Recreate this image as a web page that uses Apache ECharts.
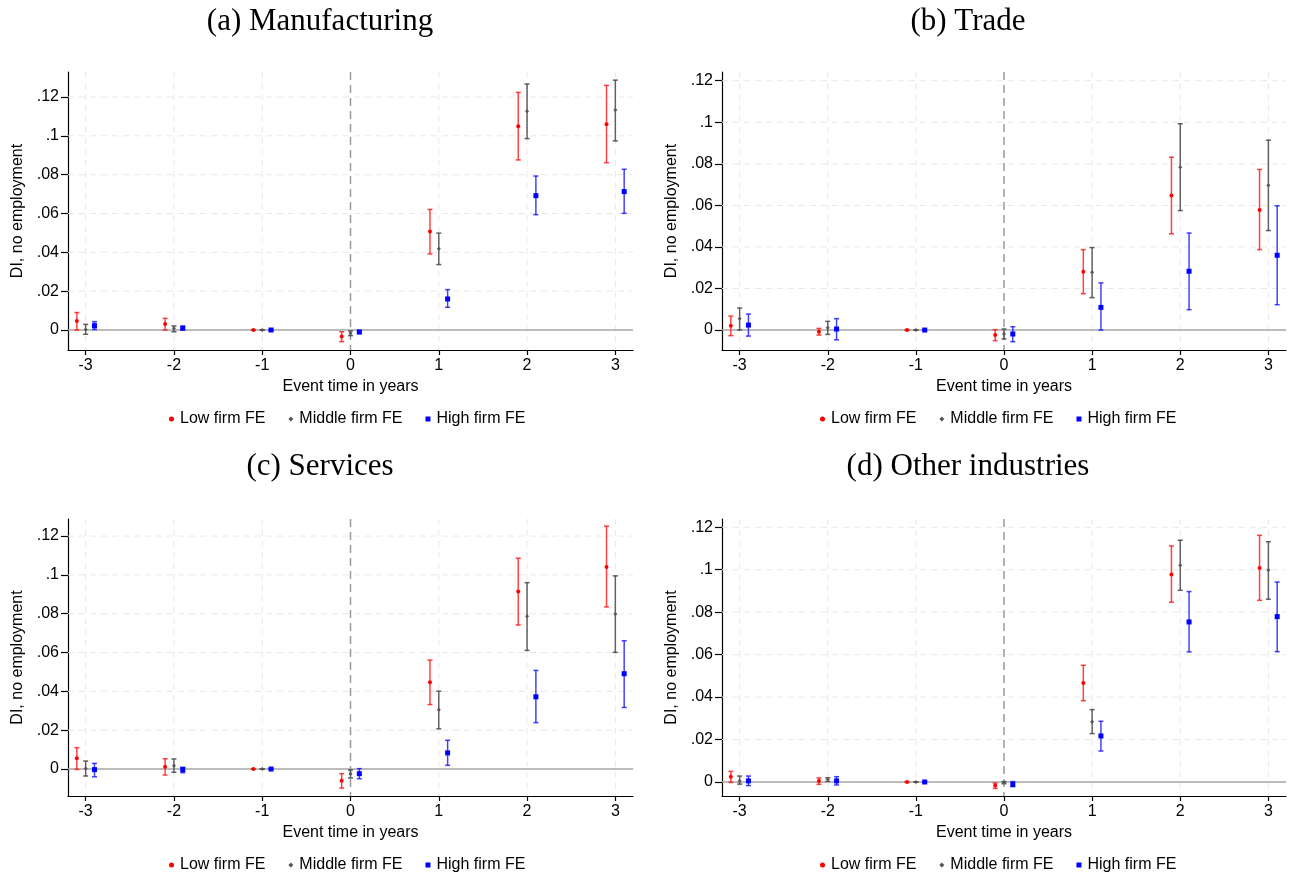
<!DOCTYPE html>
<html>
<head>
<meta charset="utf-8">
<script src="https://cdn.jsdelivr.net/npm/echarts@6/dist/echarts.min.js"></script>
<style>html,body{margin:0;padding:0;background:#fff;}#chart{width:1290px;height:878px;}</style>
</head>
<body>
<div id="chart"></div>
<script>
// ---------- data ----------
const eventTime = [-3, -2, -1, 0, 1, 2, 3];
const xTickLabels = ['-3', '-2', '-1', '0', '1', '2', '3'];
const yTicks = [0, 0.02, 0.04, 0.06, 0.08, 0.1, 0.12];
const yTickLabels = ['0', '.02', '.04', '.06', '.08', '.1', '.12'];
const groupNames = ['Low firm FE', 'Middle firm FE', 'High firm FE'];
const panelTitles = ['(a) Manufacturing', '(b) Trade', '(c) Services', '(d) Other industries'];

// (a) Manufacturing
const mfgLow = [0.0046, 0.0031, 0, -0.0033, 0.0508, 0.1050, 0.1060];
const mfgLowCI = [[0.0000, 0.0090], [0.0000, 0.0060], [0, 0], [-0.0060, -0.0009], [0.0392, 0.0621], [0.0876, 0.1224], [0.0862, 0.1260]];
const mfgMid = [0.0003, 0.0009, 0, -0.0017, 0.0418, 0.1127, 0.1133];
const mfgMidCI = [[-0.0022, 0.0029], [-0.0009, 0.0021], [0, 0], [-0.0029, -0.0005], [0.0337, 0.0499], [0.0986, 0.1267], [0.0974, 0.1287]];
const mfgHigh = [0.0022, 0.0010, 0, -0.0010, 0.0160, 0.0692, 0.0713];
const mfgHighCI = [[0.0003, 0.0043], [0.0000, 0.0019], [0, 0], [-0.0019, -0.0003], [0.0117, 0.0208], [0.0594, 0.0793], [0.0601, 0.0828]];

// (b) Trade
const trdLow = [0.0021, -0.0008, 0, -0.0024, 0.0281, 0.0647, 0.0578];
const trdLowCI = [[-0.0027, 0.0067], [-0.0024, 0.0008], [0, 0], [-0.0051, 0.0002], [0.0175, 0.0387], [0.0463, 0.0832], [0.0387, 0.0773]];
const trdMid = [0.0055, 0.0011, 0, -0.0019, 0.0278, 0.0784, 0.0697];
const trdMidCI = [[0.0000, 0.0106], [-0.0021, 0.0042], [0, 0], [-0.0043, 0.0005], [0.0156, 0.0397], [0.0575, 0.0993], [0.0479, 0.0914]];
const trdHigh = [0.0024, 0.0005, 0, -0.0019, 0.0109, 0.0283, 0.0360];
const trdHighCI = [[-0.0029, 0.0077], [-0.0047, 0.0055], [0, 0], [-0.0056, 0.0016], [0.0000, 0.0227], [0.0098, 0.0467], [0.0122, 0.0598]];

// (c) Services
const srvLow = [0.0055, 0.0012, 0, -0.0060, 0.0447, 0.0914, 0.1041];
const srvLowCI = [[-0.0002, 0.0110], [-0.0031, 0.0053], [0, 0], [-0.0098, -0.0024], [0.0332, 0.0561], [0.0742, 0.1086], [0.0835, 0.1251]];
const srvMid = [0.0003, 0.0017, 0, -0.0026, 0.0305, 0.0787, 0.0799];
const srvMidCI = [[-0.0036, 0.0041], [-0.0017, 0.0052], [0, 0], [-0.0046, -0.0005], [0.0207, 0.0401], [0.0611, 0.0960], [0.0601, 0.0995]];
const srvHigh = [-0.0003, -0.0003, 0, -0.0024, 0.0083, 0.0372, 0.0491];
const srvHighCI = [[-0.0040, 0.0029], [-0.0019, 0.0009], [0, 0], [-0.0050, 0.0002], [0.0019, 0.0148], [0.0239, 0.0508], [0.0317, 0.0661]];

// (d) Other industries
const othLow = [0.0025, 0.0005, 0, -0.0017, 0.0466, 0.0978, 0.1008];
const othLowCI = [[-0.0002, 0.0050], [-0.0011, 0.0019], [0, 0], [-0.0030, -0.0005], [0.0383, 0.0550], [0.0847, 0.1112], [0.0856, 0.1162]];
const othMid = [0.0005, 0.0013, 0, -0.0003, 0.0284, 0.1021, 0.0999];
const othMidCI = [[-0.0010, 0.0028], [0.0003, 0.0020], [0, 0], [-0.0008, 0.0002], [0.0228, 0.0341], [0.0903, 0.1139], [0.0861, 0.1132]];
const othHigh = [0.0005, 0.0005, 0, -0.0011, 0.0217, 0.0754, 0.0779];
const othHighCI = [[-0.0017, 0.0028], [-0.0014, 0.0025], [0, 0], [-0.0022, 0.0002], [0.0146, 0.0286], [0.0613, 0.0897], [0.0614, 0.0942]];

// ---------- layout & style ----------
const panelData = [
  [[mfgLow, mfgLowCI], [mfgMid, mfgMidCI], [mfgHigh, mfgHighCI]],
  [[trdLow, trdLowCI], [trdMid, trdMidCI], [trdHigh, trdHighCI]],
  [[srvLow, srvLowCI], [srvMid, srvMidCI], [srvHigh, srvHighCI]],
  [[othLow, othLowCI], [othMid, othMidCI], [othHigh, othHighCI]]
];
const layout = [
  {left: 68, top: 72, width: 565, height: 278, ymin: -0.0103, ymax: 0.1329, tx: 320, ty: 22, lx: 164, ly: 406},
  {left: 722, top: 72, width: 564, height: 278, ymin: -0.0096, ymax: 0.1242, tx: 968, ty: 22, lx: 815, ly: 406},
  {left: 68, top: 519, width: 565, height: 277, ymin: -0.0139, ymax: 0.1288, tx: 320, ty: 467, lx: 164, ly: 852},
  {left: 722, top: 519, width: 564, height: 277, ymin: -0.0066, ymax: 0.1239, tx: 968, ty: 467, lx: 815, ly: 852}
];
const dodge = [-0.1, 0, 0.1];
const markerColors = ['#ff0000', '#555555', '#0000ff'];
const ciColors = ['rgba(255,20,20,0.8)', 'rgba(70,70,70,0.85)', 'rgba(20,20,255,0.8)'];
const symbols = ['circle', 'diamond', 'rect'];
const symbolSizes = [4, 4, 5];
const FONT = 'Liberation Sans, Arial, Helvetica, sans-serif';

const grids = [], xAxes = [], yAxes = [], series = [], legends = [], graphics = [];

layout.forEach((L, i) => {
  grids.push({left: L.left, top: L.top, width: L.width, height: L.height, containLabel: false});
  xAxes.push({
    gridIndex: i, type: 'value', min: -3.2, max: 3.2,
    axisLine: {show: true, onZero: false, lineStyle: {color: '#000', width: 1.2}},
    axisTick: {show: true, customValues: eventTime, length: 5, lineStyle: {color: '#000', width: 1.2}},
    axisLabel: {customValues: eventTime, formatter: v => { const k = eventTime.indexOf(v); return k >= 0 ? xTickLabels[k] : String(v); }, fontSize: 16, color: '#000', margin: 8, fontFamily: FONT},
    splitLine: {show: false},
    name: 'Event time in years', nameLocation: 'middle', nameGap: 29,
    nameTextStyle: {fontSize: 16, color: '#000', fontFamily: FONT}
  });
  yAxes.push({
    gridIndex: i, type: 'value', min: L.ymin, max: L.ymax,
    axisLine: {show: true, onZero: false, lineStyle: {color: '#000', width: 1.2}},
    axisTick: {show: true, customValues: yTicks, length: 7, lineStyle: {color: '#000', width: 1.2}},
    axisLabel: {customValues: yTicks, formatter: v => { const k = yTicks.findIndex(t => Math.abs(t - v) < 1e-9); return k >= 0 ? yTickLabels[k] : String(v); }, fontSize: 16, color: '#000', margin: 9, fontFamily: FONT},
    splitLine: {show: false},
    name: 'DI, no employment', nameLocation: 'middle', nameGap: 42, nameRotate: 90,
    nameTextStyle: {fontSize: 16, color: '#000', fontFamily: FONT}
  });

  // vertical grid lines
  series.push({
    type: 'custom', name: 'vgrid' + i, xAxisIndex: i, yAxisIndex: i, silent: true, z: 1,
    data: eventTime.map(t => [t, 0]),
    encode: {x: 0, y: 1},
    renderItem: (params, api) => {
      const cs = params.coordSys;
      const x = api.coord([api.value(0), 0])[0];
      const isZero = api.value(0) === 0;
      return {type: 'line', shape: {x1: x, y1: cs.y, x2: x, y2: cs.y + cs.height},
        style: isZero ? {stroke: '#9a9a9a', lineWidth: 1.5, lineDash: [8, 5]} : {stroke: '#e8e8e8', lineWidth: 1, lineDash: [6, 5]}};
    }
  });
  // horizontal grid lines
  series.push({
    type: 'custom', name: 'hgrid' + i, xAxisIndex: i, yAxisIndex: i, silent: true, z: 1,
    data: yTicks.map(v => [0, v]),
    encode: {x: 0, y: 1},
    renderItem: (params, api) => {
      const cs = params.coordSys;
      const y = api.coord([0, api.value(1)])[1];
      const isZero = api.value(1) === 0;
      return {type: 'line', shape: {x1: cs.x, y1: y, x2: cs.x + cs.width, y2: y},
        style: isZero ? {stroke: '#a6a6a6', lineWidth: 1.5} : {stroke: '#e8e8e8', lineWidth: 1, lineDash: [6, 5]}};
    }
  });

  panelData[i].forEach((g, j) => {
    const est = g[0], ci = g[1];
    series.push({
      type: 'custom', name: groupNames[j], xAxisIndex: i, yAxisIndex: i, z: 2,
      itemStyle: {color: markerColors[j]},
      data: eventTime.map((t, k) => [t + dodge[j], ci[k][0], ci[k][1]]),
      encode: {x: 0, y: [1, 2]},
      renderItem: (params, api) => {
        const lo = api.coord([api.value(0), api.value(1)]);
        const hi = api.coord([api.value(0), api.value(2)]);
        const st = {stroke: ciColors[j], lineWidth: 1.5};
        return {type: 'group', children: [
          {type: 'line', shape: {x1: lo[0], y1: lo[1], x2: hi[0], y2: hi[1]}, style: st},
          {type: 'line', shape: {x1: lo[0] - 2.5, y1: lo[1], x2: lo[0] + 2.5, y2: lo[1]}, style: st},
          {type: 'line', shape: {x1: hi[0] - 2.5, y1: hi[1], x2: hi[0] + 2.5, y2: hi[1]}, style: st}
        ]};
      }
    });
    series.push({
      type: 'scatter', name: groupNames[j], xAxisIndex: i, yAxisIndex: i, z: 3,
      symbol: symbols[j], symbolSize: symbolSizes[j],
      itemStyle: {color: markerColors[j], opacity: 1},
      data: eventTime.map((t, k) => [t + dodge[j], est[k]])
    });
  });

  legends.push({
    left: L.lx, top: L.ly, orient: 'horizontal', itemGap: 23, itemWidth: 5, itemHeight: 5,
    textStyle: {fontSize: 16, color: '#000', fontFamily: FONT, padding: [0, 0, 0, 1]},
    data: groupNames.map((n, j) => ({name: n, icon: symbols[j], itemStyle: {color: markerColors[j]}})),
    selectedMode: false
  });

  graphics.push({
    type: 'text', x: L.tx, y: L.ty,
    style: {text: panelTitles[i], font: '31px "Liberation Serif", "Times New Roman", serif', fill: '#000', textAlign: 'center', textVerticalAlign: 'middle'}
  });
});

const chart = echarts.init(document.getElementById('chart'), null, {renderer: 'canvas'});
chart.setOption({
  backgroundColor: '#fff',
  animation: false,
  textStyle: {fontFamily: FONT},
  grid: grids, xAxis: xAxes, yAxis: yAxes,
  legend: legends, series: series, graphic: graphics
});
</script>
</body>
</html>
